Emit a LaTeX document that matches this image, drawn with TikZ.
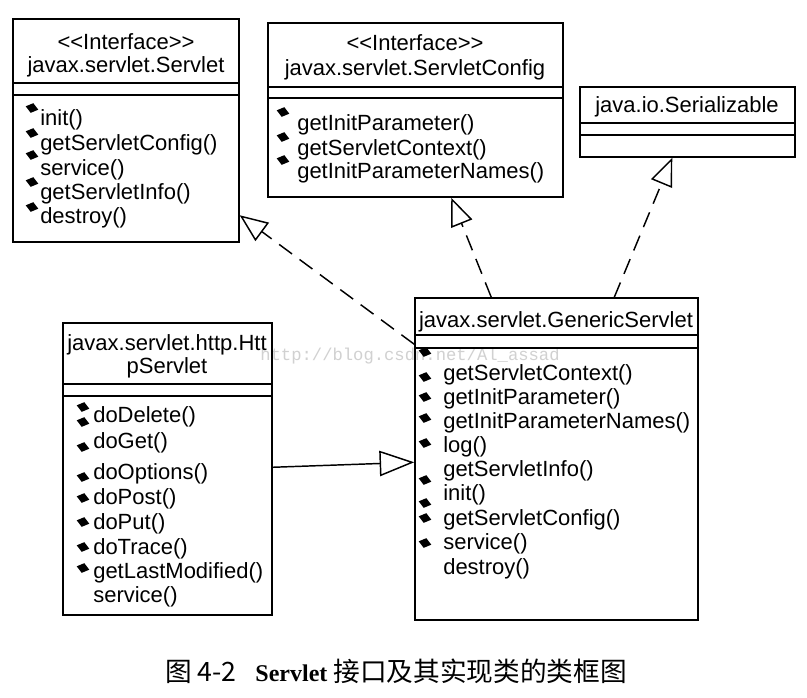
\documentclass[tikz,border=0pt]{standalone}
\usepackage{fontspec}
\setmainfont{Liberation Sans}
\newfontfamily\cjk{Noto Sans CJK SC}
\newfontfamily\capserif{Liberation Serif}
\newfontfamily\wmark{Liberation Mono}
\usetikzlibrary{arrows.meta,calc,fit}

\begin{document}
\begin{tikzpicture}[x=0.75pt,y=-0.75pt,
    box/.style={draw,line width=1.1pt,inner sep=0pt},
    sep/.style={line width=1.1pt},
    head/.style={inner sep=0pt,font=\fontsize{16.5}{18}\selectfont},
    meth/.style={anchor=west,inner sep=0pt,font=\fontsize{16.5}{18}\selectfont},
    gem/.pic={\fill[rotate=-15] (-6.5,0) -- (0,-5) -- (6.5,0) -- (0,5) -- cycle;},
    realize/.style={line width=1.1pt,dash pattern=on 12pt off 7pt,
      -{Triangle[open,length=21pt,width=17pt]}},
    extend/.style={line width=1.1pt,-{Triangle[open,length=26pt,width=19pt]}}]
  \useasboundingbox[fill=white] (0,0) rectangle (807,697);

  % watermark
  \node[text=black!18,font=\wmark\fontsize{12.9}{14}\selectfont] (mark)
    at (410,356) {http://blog.csdn.net/Al\_assad};

  % javax.servlet.Servlet
  \node[box,fit={(13,19) (239,242)}] (servlet) {};
  \draw[sep] (servlet.west |- 0,83) -- (servlet.east |- 0,83);
  \draw[sep] (servlet.west |- 0,95) -- (servlet.east |- 0,95);
  \node[head] (svst) at (126,42) {<\kern0pt<Interface>\kern0pt>};
  \node[head] (svname) at (126,67) {javax.servlet.Servlet};
  \foreach \m/\y [count=\i] in {init()/120,getServletConfig()/145,
      service()/170,getServletInfo()/194,destroy()/218}
    \node[meth] (sv\i) at (40,\y) {\m};
  \foreach \y in {108,133,155,182,207}
    \pic at (32,\y) {gem};

  % javax.servlet.ServletConfig
  \node[box,fit={(268,23) (563,197)}] (config) {};
  \draw[sep] (config.west |- 0,87) -- (config.east |- 0,87);
  \draw[sep] (config.west |- 0,98) -- (config.east |- 0,98);
  \node[head] (cfst) at (415,43) {<\kern0pt<Interface>\kern0pt>};
  \node[head] (cfname) at (415,70) {javax.servlet.ServletConfig};
  \foreach \m/\y [count=\i] in {getInitParameter()/125,
      getServletContext()/150,getInitParameterNames()/173}
    \node[meth] (cf\i) at (297,\y) {\m};
  \foreach \y in {112,137,160}
    \pic at (283,\y) {gem};

  % java.io.Serializable
  \node[box,fit={(580,87) (795,157)}] (serial) {};
  \draw[sep] (serial.west |- 0,123) -- (serial.east |- 0,123);
  \draw[sep] (serial.west |- 0,135) -- (serial.east |- 0,135);
  \node[head] (srname) at (687,107) {java.io.Serializable};

  % javax.servlet.GenericServlet
  \node[box,fit={(415,298) (698,620)}] (generic) {};
  \draw[sep] (generic.west |- 0,335) -- (generic.east |- 0,335);
  \draw[sep] (generic.west |- 0,348) -- (generic.east |- 0,348);
  \node[head] (gsname) at (556,322) {javax.servlet.GenericServlet};
  \foreach \m/\y [count=\i] in {getServletContext()/375,getInitParameter()/399,
      getInitParameterNames()/423,log()/447,getServletInfo()/471,init()/495,
      getServletConfig()/520,service()/544,destroy()/569}
    \node[meth] (gs\i) at (443,\y) {\m};
  \foreach \y in {352,377,397,418,443,480,503,518,543}
    \pic at (425,\y) {gem};

  % javax.servlet.http.HttpServlet
  \node[box,fit={(63,323) (272,615)}] (http) {};
  \draw[sep] (http.west |- 0,384) -- (http.east |- 0,384);
  \draw[sep] (http.west |- 0,396) -- (http.east |- 0,396);
  \node[head] (hsname1) at (167,345) {javax.servlet.http.Htt};
  \node[head] (hsname2) at (167,368) {pServlet};
  \foreach \m/\y [count=\i] in {doDelete()/417,doGet()/443,doOptions()/474,
      doPost()/499,doPut()/524,doTrace()/549,getLastModified()/573,service()/597}
    \node[meth] (hs\i) at (93,\y) {\m};
  \foreach \y in {407,422,447,477,498,522,547,568}
    \pic at (83,\y) {gem};

  % connectors
  \draw[realize] ($(generic.north west)+(0,47)$) -- ($(servlet.north east)+(0,197)$);
  \draw[realize] ($(generic.north west)+(77,0)$) -- ($(config.south west)+(184,0)$);
  \draw[realize] ($(generic.north west)+(200,0)$) -- ($(serial.south west)+(93,0)$);
  \draw[extend] ($(http.north east)+(0,145)$) -- ($(generic.north west)+(0,165)$);

  % caption
  \node[inner sep=0pt] (caption) at (396,671)
    {\cjk\fontsize{20}{22}\selectfont 图 4-2\hspace{14pt}{\capserif\bfseries\fontsize{18}{20}\selectfont Servlet} 接口及其实现类的类框图};
\end{tikzpicture}
\end{document}
